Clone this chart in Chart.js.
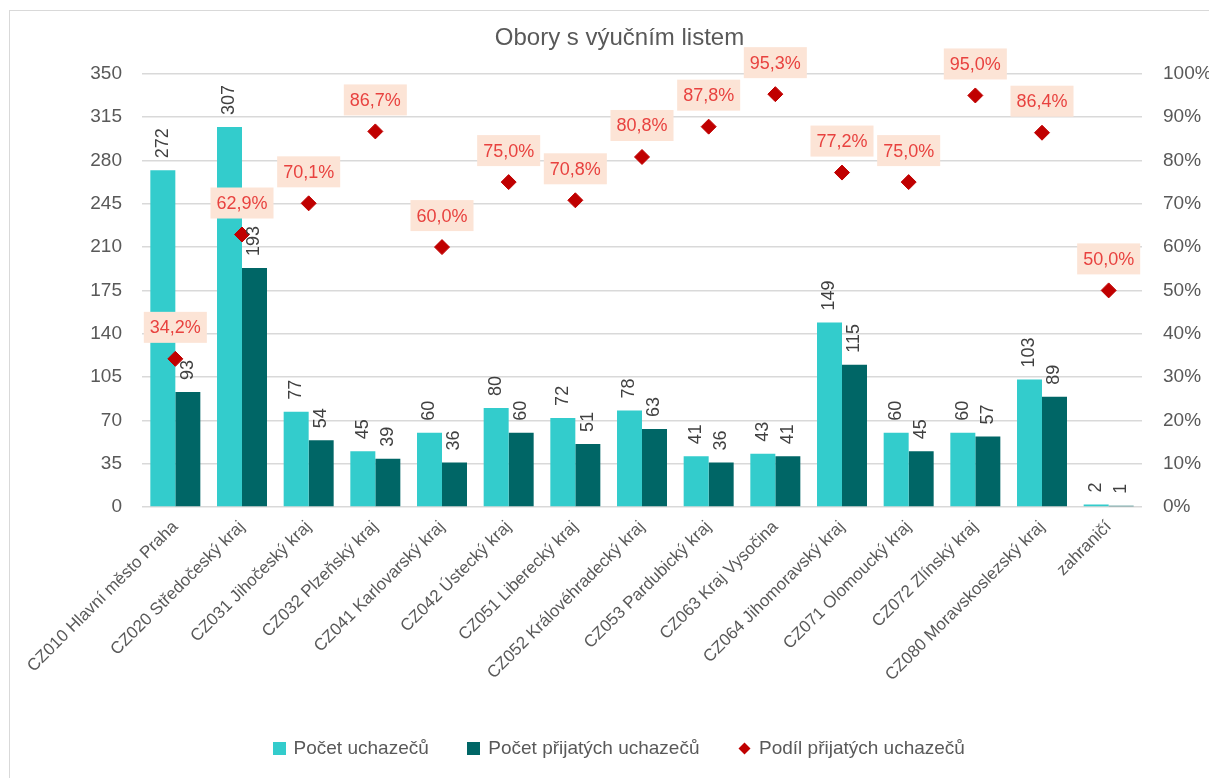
<!DOCTYPE html>
<html>
<head>
<meta charset="utf-8">
<script src="https://cdn.jsdelivr.net/npm/chart.js@4.4.1/dist/chart.umd.min.js"></script>
<style>
html,body{margin:0;padding:0;background:#fff;overflow:hidden;width:1209px;height:778px}
canvas{position:absolute;left:0;top:0}
#frame{position:absolute;left:9px;top:10px;width:1220px;height:800px;border:1px solid #D9D9D9;pointer-events:none}
</style>
</head>
<body>
<canvas id="c" width="1209" height="778"></canvas>
<div id="frame"></div>
<script>
// ---- data ----
const chartTitle = 'Obory s výučním listem';
const categories = [
  'CZ010 Hlavní město Praha', 'CZ020 Středočeský kraj', 'CZ031 Jihočeský kraj',
  'CZ032 Plzeňský kraj', 'CZ041 Karlovarský kraj', 'CZ042 Ústecký kraj',
  'CZ051 Liberecký kraj', 'CZ052 Královéhradecký kraj', 'CZ053 Pardubický kraj',
  'CZ063 Kraj Vysočina', 'CZ064 Jihomoravský kraj', 'CZ071 Olomoucký kraj',
  'CZ072 Zlínský kraj', 'CZ080 Moravskoslezský kraj', 'zahraničí'
];
const applicants = [272, 307, 77, 45, 60, 80, 72, 78, 41, 43, 149, 60, 60, 103, 2];
const accepted   = [93, 193, 54, 39, 36, 60, 51, 63, 36, 41, 115, 45, 57, 89, 1];
const acceptedShare = [34.2, 62.9, 70.1, 86.7, 60.0, 75.0, 70.8, 80.8, 87.8, 95.3, 77.2, 75.0, 95.0, 86.4, 50.0];
const seriesNames = ['Počet uchazečů', 'Počet přijatých uchazečů', 'Podíl přijatých uchazečů'];
const leftTicks = [0, 35, 70, 105, 140, 175, 210, 245, 280, 315, 350];
const rightTicks = [0, 10, 20, 30, 40, 50, 60, 70, 80, 90, 100];

// ---- style ----
const C_LIGHT = '#33CCCC';
const C_DARK = '#006666';
const C_RED = '#C00000';
const C_TXT = '#595959';
const FONT = "'Liberation Sans', Arial, sans-serif";

function icon(kind, color) {
  const c = document.createElement('canvas');
  c.width = 13; c.height = 13;
  const g = c.getContext('2d');
  g.fillStyle = color;
  if (kind === 'sq') { g.fillRect(0, 0, 13, 13); }
  else { g.beginPath(); g.moveTo(6.5, 0.5); g.lineTo(12.5, 6.5); g.lineTo(6.5, 12.5); g.lineTo(0.5, 6.5); g.closePath(); g.fill(); }
  return c;
}
const legendIcons = [icon('sq', C_LIGHT), icon('sq', C_DARK), icon('dia', C_RED)];

const fmtPct = v => v.toFixed(1).replace('.', ',') + '%';

const labelPlugin = {
  id: 'valueLabels',
  afterDatasetsDraw(chart) {
    const ctx = chart.ctx;
    ctx.save();
    // bar labels (rotated)
    [0, 1].forEach(di => {
      const meta = chart.getDatasetMeta(di);
      const vals = chart.data.datasets[di].data;
      meta.data.forEach((bar, i) => {
        ctx.save();
        ctx.translate(bar.x, bar.y - 12);
        ctx.rotate(-Math.PI / 2);
        ctx.font = '18px ' + FONT;
        ctx.fillStyle = '#404040';
        ctx.textAlign = 'left';
        ctx.textBaseline = 'middle';
        ctx.fillText(String(vals[i]), 0, 0);
        ctx.restore();
      });
    });
    // percent labels with background box
    const meta = chart.getDatasetMeta(2);
    const vals = chart.data.datasets[2].data;
    meta.data.forEach((pt, i) => {
      const txt = fmtPct(vals[i]);
      ctx.font = '18px ' + FONT;
      const w = ctx.measureText(txt).width + 12;
      const h = 31;
      const cx = pt.x, cy = pt.y - 31.5;
      ctx.fillStyle = '#FCE4D6';
      ctx.fillRect(cx - w / 2, cy - h / 2, w, h);
      ctx.fillStyle = '#E8423F';
      ctx.textAlign = 'center';
      ctx.textBaseline = 'middle';
      ctx.fillText(txt, cx, cy + 1);
    });
    ctx.restore();
  }
};

new Chart(document.getElementById('c'), {
  data: {
    labels: categories,
    datasets: [
      { type: 'bar', label: seriesNames[0], data: applicants, backgroundColor: C_LIGHT, yAxisID: 'y', order: 1,
        categoryPercentage: 0.75, barPercentage: 1.0 },
      { type: 'bar', label: seriesNames[1], data: accepted, backgroundColor: C_DARK, yAxisID: 'y', order: 1,
        categoryPercentage: 0.75, barPercentage: 1.0 },
      { type: 'line', label: seriesNames[2], data: acceptedShare, yAxisID: 'y1', order: 0, showLine: false,
        pointStyle: 'rectRot', pointRadius: 7.5, pointBorderWidth: 1, pointBackgroundColor: C_RED,
        pointBorderColor: C_RED, backgroundColor: C_RED, borderColor: C_RED }
    ]
  },
  options: {
    responsive: false,
    animation: false,
    devicePixelRatio: 1,
    layout: { padding: { left: 30, right: 0, top: 0, bottom: 10 } },
    plugins: {
      tooltip: { enabled: false },
      title: {
        display: true, text: chartTitle, color: C_TXT,
        font: { family: FONT, size: 24, weight: 'normal', lineHeight: 1.2 },
        padding: { top: 24, bottom: 21 }
      },
      legend: {
        position: 'bottom',
        labels: {
          usePointStyle: true, boxWidth: 10, boxHeight: 13, padding: 40, color: C_TXT,
          font: { family: FONT, size: 19 },
          generateLabels(chart) {
            const items = Chart.defaults.plugins.legend.labels.generateLabels(chart);
            items.sort((a, b) => a.datasetIndex - b.datasetIndex);
            items.forEach(it => { it.pointStyle = legendIcons[it.datasetIndex]; });
            return items;
          }
        }
      }
    },
    scales: {
      x: {
        grid: { display: false, drawTicks: false },
        border: { display: false },
        ticks: { autoSkip: false, minRotation: 45, maxRotation: 45, padding: 10, color: C_TXT,
          font: { family: FONT, size: 17 } },
        afterFit(s) { s.height = 192; }
      },
      y: {
        position: 'left', min: 0, max: leftTicks[leftTicks.length - 1],
        afterBuildTicks(s) { s.ticks = leftTicks.map(v => ({ value: v })); },
        grid: { color: '#D9D9D9', drawTicks: false, lineWidth: 1.5 },
        border: { display: false },
        ticks: { padding: 20, color: C_TXT, font: { family: FONT, size: 19 } },
        afterFit(s) { s.width = 112; }
      },
      y1: {
        position: 'right', min: 0, max: rightTicks[rightTicks.length - 1],
        afterBuildTicks(s) { s.ticks = rightTicks.map(v => ({ value: v })); },
        grid: { display: false, drawTicks: false, drawOnChartArea: false },
        border: { display: false },
        ticks: { padding: 21, color: C_TXT, font: { family: FONT, size: 19 }, callback: v => v + '%' },
        afterFit(s) { s.width = 67; }
      }
    }
  },
  plugins: [labelPlugin]
});
</script>
</body>
</html>
